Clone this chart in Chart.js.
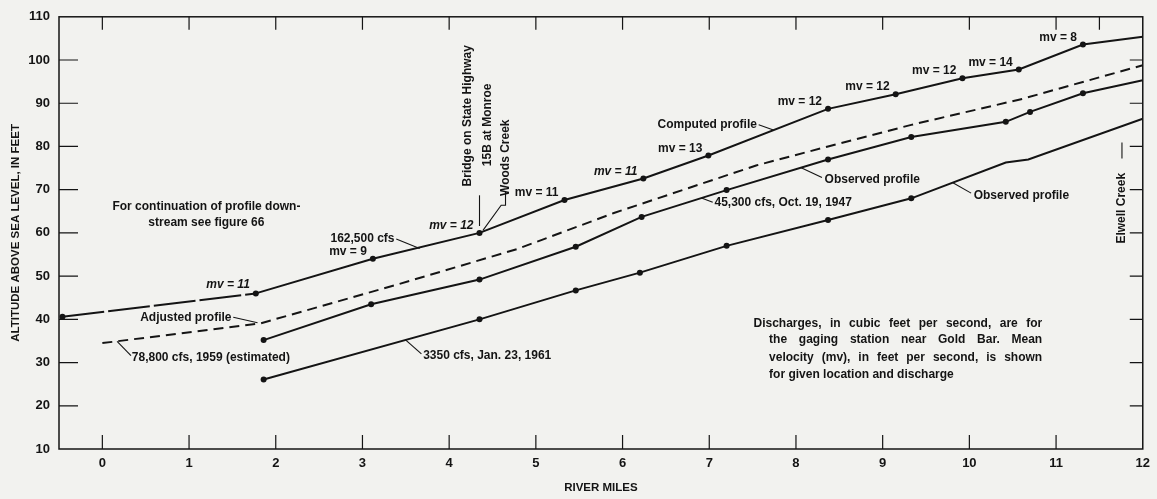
<!DOCTYPE html>
<html>
<head>
<meta charset="utf-8">
<script src="https://cdn.jsdelivr.net/npm/chart.js@4.4.1/dist/chart.umd.min.js"></script>
<style>
  html, body { margin: 0; background: #f2f2ef; }
  canvas { display: block; }
</style>
</head>
<body>
<canvas id="profile" width="1157" height="499"></canvas>
<script>
// River miles on the x axis, altitude in feet on the y axis
const mileTicks = [0, 1, 2, 3, 4, 5, 6, 7, 8, 9, 10, 11, 12];
const altitudeTicks = [10, 20, 30, 40, 50, 60, 70, 80, 90, 100, 110];

// Computed profile, 162,500 cfs, with mean velocity at each section
const computedMiles = [-0.46, 1.77, 3.12, 4.35, 5.33, 6.24, 6.99, 8.37, 9.15, 9.92, 10.57, 11.31, 12];
const computedAltitude = [40.6, 46.0, 54.0, 60.0, 67.6, 72.6, 77.9, 88.7, 92.1, 95.8, 97.8, 103.6, 105.4];
const meanVelocity = [null, 11, 9, 12, 11, 11, 13, 12, 12, 12, 14, 8, null];

// Adjusted profile, 78,800 cfs, 1959 (estimated)
const adjustedMiles = [0, 1.83, 3.41, 4.79, 5.9, 7.54, 8.37, 9.33, 10.61, 12];
const adjustedAltitude = [34.5, 39.1, 48.1, 56.3, 64.6, 75.6, 80.0, 85.0, 91.0, 98.8];

// Observed profile, 45,300 cfs, Oct. 19, 1947
const octMiles = [1.86, 3.10, 4.35, 5.46, 6.22, 7.2, 8.37, 9.33, 10.42, 10.7, 11.31, 12];
const octAltitude = [35.2, 43.5, 49.2, 56.8, 63.7, 69.9, 77.0, 82.2, 85.7, 88.0, 92.3, 95.3];

// Observed profile, 3350 cfs, Jan. 23, 1961
const janMiles = [1.86, 4.35, 5.46, 6.2, 7.2, 8.37, 9.33, 10.42, 10.68, 12];
const janAltitude = [26.1, 40.0, 46.7, 50.8, 57.0, 63.0, 68.0, 76.3, 77.0, 86.4];
const janBends = [10.42, 10.68, 12];

const ink = '#141414';
const font = 'bold 12px "Liberation Sans", Arial, sans-serif';

function points(xs, ys) {
  return xs.map((m, i) => ({ x: m, y: ys[i] }));
}

// Text notes placed in data units (x = river mile, y = feet)
const notes = [
  { text: 'For continuation of profile down-', x: 1.2, y: 66.0, align: 'center' },
  { text: 'stream see figure 66', x: 1.2, y: 62.3, align: 'center' },
  { text: '162,500 cfs', x: 3.37, y: 58.6, align: 'right' },
  { text: 'Adjusted profile', x: 1.49, y: 40.3, align: 'right' },
  { text: '78,800 cfs, 1959 (estimated)', x: 0.34, y: 31.1, align: 'left' },
  { text: 'Computed profile', x: 7.55, y: 85.0, align: 'right' },
  { text: '45,300 cfs, Oct. 19, 1947', x: 7.06, y: 66.9, align: 'left' },
  { text: 'Observed profile', x: 8.33, y: 72.2, align: 'left' },
  { text: 'Observed profile', x: 10.05, y: 68.7, align: 'left' },
  { text: '3350 cfs, Jan. 23, 1961', x: 3.70, y: 31.6, align: 'left' }
];

// Vertical labels, read from bottom to top
const upright = [
  { text: 'Bridge on State Highway', x: 4.21, y: 87.1 },
  { text: '15B at Monroe', x: 4.44, y: 85.0 },
  { text: 'Woods Creek', x: 4.65, y: 77.4 },
  { text: 'Elwell Creek', x: 11.76, y: 65.7 }
];

const leaders = [
  [[3.39, 58.6], [3.66, 56.4]],
  [[1.51, 40.5], [1.79, 39.2]],
  [[0.17, 34.9], [0.33, 31.6]],
  [[4.35, 68.7], [4.35, 61.6]],
  [[4.65, 69.6], [4.65, 66.4], [4.60, 66.4], [4.39, 60.6]],
  [[7.57, 85.0], [7.74, 83.8]],
  [[6.91, 68.1], [7.04, 67.1]],
  [[8.06, 75.1], [8.30, 72.8]],
  [[9.81, 71.6], [10.02, 69.2]],
  [[3.50, 35.2], [3.68, 32.0]],
  [[11.76, 80.9], [11.76, 77.2]]
];

const footnote = [
  { text: 'Discharges, in cubic feet per second, are for', x: 7.51, y: 38.9, justify: true },
  { text: 'the gaging station near Gold Bar.   Mean', x: 7.69, y: 35.2, justify: true },
  { text: 'velocity (mv), in feet per second, is shown', x: 7.69, y: 31.1, justify: true },
  { text: 'for given location and discharge', x: 7.69, y: 27.2, justify: false }
];
const footnoteRight = 10.84;
const italicMv = [1, 3, 5];

const profileNotes = {
  id: 'profileNotes',
  afterDraw(chart) {
    const { ctx, chartArea: a, scales: { x, y } } = chart;
    const px = v => x.getPixelForValue(v);
    const py = v => y.getPixelForValue(v);
    ctx.save();
    ctx.strokeStyle = ink;
    ctx.fillStyle = ink;

    // frame and inward tick marks
    ctx.lineWidth = 1.5;
    ctx.strokeRect(a.left, a.top, a.right - a.left, a.bottom - a.top);
    ctx.lineWidth = 1.2;
    ctx.beginPath();
    mileTicks.slice(0, -1).forEach(m => {
      ctx.moveTo(px(m), a.bottom); ctx.lineTo(px(m), a.bottom - 14);
      ctx.moveTo(px(m), a.top); ctx.lineTo(px(m), a.top + 13);
    });
    ctx.moveTo(px(11.5), a.top); ctx.lineTo(px(11.5), a.top + 13);
    altitudeTicks.slice(1, -1).forEach(f => {
      ctx.moveTo(a.left, py(f)); ctx.lineTo(a.left + 19, py(f));
      ctx.moveTo(a.right, py(f)); ctx.lineTo(a.right - 13, py(f));
    });
    ctx.stroke();

    // leader lines
    ctx.lineWidth = 1.1;
    leaders.forEach(path => {
      ctx.beginPath();
      path.forEach(([m, f], i) => i ? ctx.lineTo(px(m), py(f)) : ctx.moveTo(px(m), py(f)));
      ctx.stroke();
    });

    ctx.font = font;
    ctx.textBaseline = 'middle';

    // mean velocity beside each computed section
    meanVelocity.forEach((v, i) => {
      if (v === null) return;
      ctx.font = italicMv.includes(i) ? 'italic ' + font : font;
      ctx.textAlign = 'right';
      ctx.fillText('mv = ' + v, px(computedMiles[i]) - 6, py(computedAltitude[i]) - (i === 1 ? 9 : 7));
    });
    ctx.font = font;

    notes.forEach(n => {
      ctx.textAlign = n.align;
      ctx.fillText(n.text, px(n.x), py(n.y));
    });

    upright.forEach(n => {
      ctx.save();
      ctx.translate(px(n.x), py(n.y));
      ctx.rotate(-Math.PI / 2);
      ctx.textAlign = 'center';
      ctx.fillText(n.text, 0, 0);
      ctx.restore();
    });

    // justified footnote block
    ctx.textAlign = 'left';
    footnote.forEach(line => {
      const left = px(line.x);
      if (!line.justify) { ctx.fillText(line.text, left, py(line.y)); return; }
      const words = line.text.split(/\s+/);
      const used = words.reduce((s, w) => s + ctx.measureText(w).width, 0);
      const gap = (px(footnoteRight) - left - used) / (words.length - 1);
      let cx = left;
      words.forEach(w => {
        ctx.fillText(w, cx, py(line.y));
        cx += ctx.measureText(w).width + gap;
      });
    });

    // axis titles
    ctx.font = 'bold 11.5px "Liberation Sans", Arial, sans-serif';
    ctx.textAlign = 'center';
    ctx.fillText('RIVER MILES', (a.left + a.right) / 2, 488);
    ctx.save();
    ctx.translate(16, (a.top + a.bottom) / 2);
    ctx.rotate(-Math.PI / 2);
    ctx.fillText('ALTITUDE ABOVE SEA LEVEL, IN FEET', 0, 0);
    ctx.restore();

    ctx.restore();
  }
};

const lineStyle = {
  borderColor: ink,
  backgroundColor: ink,
  borderWidth: 2,
  pointRadius: 3,
  pointHoverRadius: 3,
  pointBorderWidth: 0,
  fill: false,
  tension: 0
};

const tickFont = { family: '"Liberation Sans", Arial', size: 13, weight: 'bold' };

new Chart(document.getElementById('profile'), {
  type: 'line',
  data: {
    datasets: [
      {
        ...lineStyle,
        label: 'Computed profile',
        data: points(computedMiles, computedAltitude),
        pointRadius: c => c.dataIndex === computedMiles.length - 1 ? 0 : 3,
        segment: { borderDash: c => c.p0DataIndex === 0 ? [42, 4] : undefined }
      },
      {
        ...lineStyle,
        label: 'Adjusted profile',
        data: points(adjustedMiles, adjustedAltitude),
        pointRadius: 0,
        borderDash: [10, 6]
      },
      {
        ...lineStyle,
        label: '45,300 cfs, Oct. 19, 1947',
        data: points(octMiles, octAltitude),
        pointRadius: c => c.dataIndex === octMiles.length - 1 ? 0 : 3
      },
      {
        ...lineStyle,
        label: '3350 cfs, Jan. 23, 1961',
        data: points(janMiles, janAltitude),
        pointRadius: c => janBends.includes(janMiles[c.dataIndex]) ? 0 : 3
      }
    ]
  },
  options: {
    responsive: false,
    animation: false,
    layout: { padding: { top: 13, right: 9, left: 0, bottom: 0 } },
    plugins: { legend: { display: false }, tooltip: { enabled: false } },
    scales: {
      x: {
        type: 'linear',
        min: -0.5,
        max: 12,
        afterBuildTicks: s => { s.ticks = mileTicks.map(v => ({ value: v })); },
        afterFit: s => { s.height = 50; },
        grid: { display: false, drawTicks: false },
        border: { display: false },
        ticks: { color: ink, font: tickFont, padding: 7, maxRotation: 0 }
      },
      y: {
        type: 'linear',
        min: 10,
        max: 110,
        afterBuildTicks: s => { s.ticks = altitudeTicks.map(v => ({ value: v })); },
        afterFit: s => { s.width = 59; },
        grid: { display: false, drawTicks: false },
        border: { display: false },
        ticks: { color: ink, font: tickFont, padding: 9 }
      }
    }
  },
  plugins: [profileNotes]
});
</script>
</body>
</html>
